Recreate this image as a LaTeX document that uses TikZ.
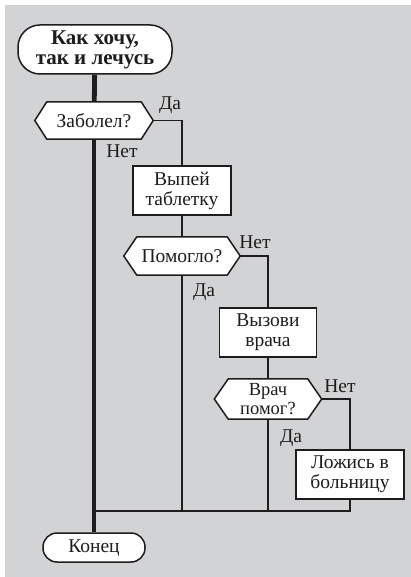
\documentclass[tikz,border=0pt]{standalone}
\usepackage{fontspec}
\setmainfont{Liberation Serif}
\usetikzlibrary{calc}
\pgfdeclarelayer{backdrop}
\pgfdeclarelayer{shapes}
\pgfsetlayers{backdrop,shapes,main}
\definecolor{panel}{RGB}{210,211,213}
\definecolor{ink}{RGB}{30,28,28}
% hexagonal outline for a decision node: node name, slant of the points
\newcommand\drawdecision[2]{%
  \begin{pgfonlayer}{shapes}
    \draw[ink, fill=white, line width=1.5pt, line join=miter]
      ($(#1.north west)+(#2,0)$) -- ($(#1.north east)-(#2,0)$) -- (#1.east)
      -- ($(#1.south east)-(#2,0)$) -- ($(#1.south west)+(#2,0)$) -- (#1.west) -- cycle;
  \end{pgfonlayer}}
\begin{document}
\begin{tikzpicture}[x=1pt,y=-1pt,
  txt/.style={font=\fontsize{19.5}{20}\selectfont, align=center, text=ink},
  terminal/.style={txt, draw=ink, fill=white, line width=1.5pt, rounded corners=#1, inner sep=0pt},
  process/.style={txt, draw=ink, fill=white, line width=1.5pt, inner sep=0pt},
  decision/.style={txt, inner sep=0pt},
  flow/.style={draw=ink, line width=1.6pt},
  mainflow/.style={draw=ink, line width=4.8pt},
  answer/.style={txt, anchor=base, inner sep=0pt}
]
\useasboundingbox (0,0) rectangle (411,577);
\begin{pgfonlayer}{backdrop}
  \fill[white] (0,0) rectangle (411,577);
  \fill[panel] (5,5) rectangle (411,577);
\end{pgfonlayer}

% blocks
\node[terminal=22pt, minimum width=154pt, minimum height=49pt,
      font=\bfseries\fontsize{21}{20}\selectfont] (start) at (95,49.5) {Как хочу,\\так и лечусь};
\node[decision, minimum width=118pt, minimum height=37pt] (d1) at (94,120.5) {Заболел?};
\node[process, minimum width=98pt, minimum height=49pt] (b1) at (182,190.5) {Выпей\\таблетку};
\node[decision, minimum width=116pt, minimum height=38pt] (d2) at (182,256) {Помогло?};
\node[process, minimum width=97pt, minimum height=49pt] (b2) at (268,332.5) {Вызови\\врача};
\node[decision, minimum width=107pt, minimum height=40pt,
      font=\fontsize{18.5}{19}\selectfont] (d3) at (268,399) {Врач\\помог?};
\node[process, minimum width=108pt, minimum height=49pt] (b3) at (350,474.5) {Ложись в\\больницу};
\node[terminal=14pt, minimum width=102pt, minimum height=29pt] (finish) at (94,547.5) {Конец};
\coordinate (j) at (94,511);

\drawdecision{d1}{12pt}
\drawdecision{d2}{13pt}
\drawdecision{d3}{14pt}

% main line
\draw[mainflow] (start) -- (d1);
\draw[mainflow] (d1) -- (finish);

% branches
\draw[flow] (d1.east) -| (b1.north);
\draw[flow] (b1) -- (d2);
\draw[flow] (d2.east) -| (b2.north);
\draw[flow] (d2.south) -- (d2.south |- j);
\draw[flow] (b2) -- (d3);
\draw[flow] (d3.east) -| (b3.north);
\draw[flow] (d3.south) -- (d3.south |- j);
\draw[flow] (b3.south) |- (j);

% answers
\node[answer] (a1) at (170,110) {Да};
\node[answer] (a2) at (122,158) {Нет};
\node[answer] (a3) at (255,248) {Нет};
\node[answer] (a4) at (204,296) {Да};
\node[answer] (a5) at (340,392) {Нет};
\node[answer] (a6) at (291,442) {Да};
\end{tikzpicture}
\end{document}
